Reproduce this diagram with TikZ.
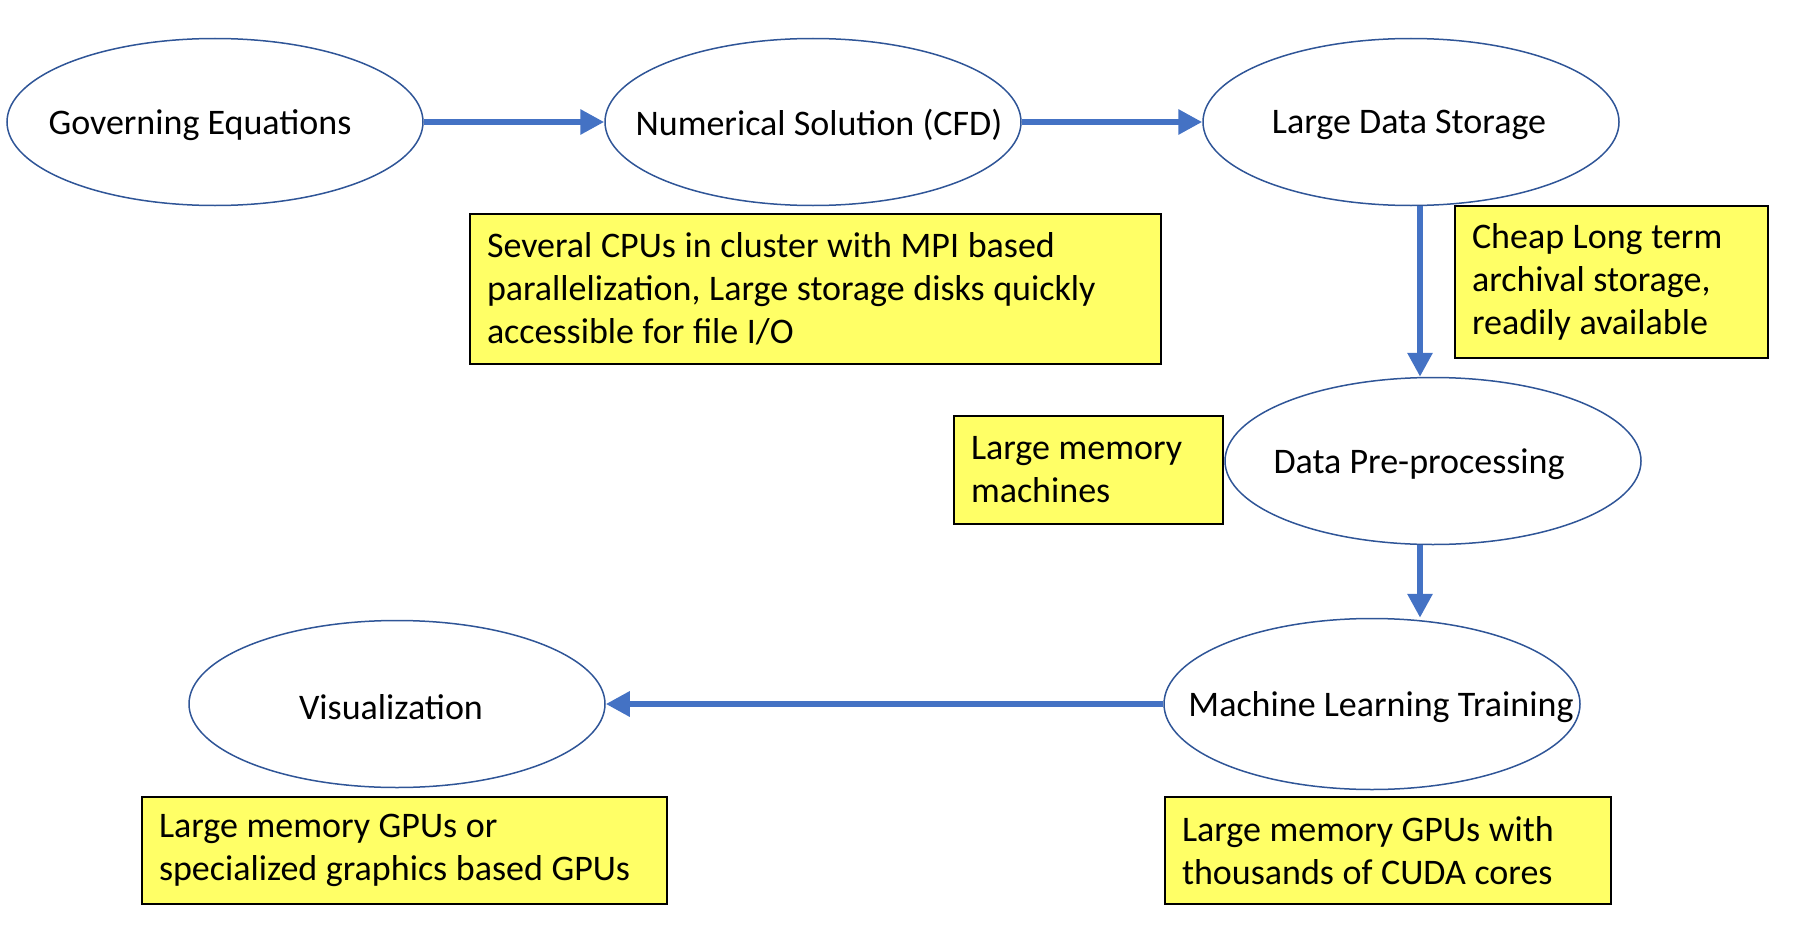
\documentclass[tikz,border=0pt]{standalone}
\usepackage{fontspec}
\setmainfont{Carlito}
\usetikzlibrary{shapes.geometric,arrows.meta}
\definecolor{arrowblue}{HTML}{4472C4}
\definecolor{ellblue}{HTML}{2F5597}
\definecolor{noteyellow}{HTML}{FFFF66}
\begin{document}
\begin{tikzpicture}[x=1pt,y=-1pt,font=\fontsize{36}{43}\selectfont,
  stage/.style={ellipse, draw=ellblue, line width=1.5pt, minimum width=416pt, minimum height=167pt, inner sep=0pt},
  stagetext/.style={yshift=-3pt},
  note/.style={draw=black, line width=2pt, fill=noteyellow, anchor=north west, align=left, inner xsep=17pt, inner ysep=0pt,
    execute at begin node={\spaceskip=8.6pt plus 1pt\relax}},
  flow/.style={draw=arrowblue, line width=6pt, -{Triangle[length=24pt,width=24pt]}}]
\useasboundingbox (0,0) rectangle (1794,934);
\node[stage, label={[stagetext,xshift=-15pt]center:Governing Equations}] (gov) at (215,122) {};
\node[stage, label={[stagetext,xshift=6pt]center:Numerical Solution (CFD)}] (num) at (813,122) {};
\node[stage, label={[stagetext,xshift=-2pt]center:Large Data Storage}] (lds) at (1411,122) {};
\node[stage, label={[stagetext,xshift=-14pt]center:Data Pre-processing}] (pre) at (1433,461) {};
\node[stage, minimum height=171pt, label={[stagetext,xshift=9pt]center:Machine Learning Training}] (ml) at (1372,704) {};
\node[stage, label={[stagetext,xshift=-6pt]center:Visualization}] (vis) at (397,704) {};

\node[note, text width=657pt, minimum height=150pt] (cpu) at (469,213) {Several CPUs in cluster with MPI based\\parallelization, Large storage disks quickly\\accessible for file I/O};
\node[note, text width=279pt, minimum height=152pt] (cheap) at (1454,205) {Cheap Long term\\archival storage,\\readily available};
\node[note, text width=235pt, minimum height=108pt] (lmm) at (953,415) {Large memory\\machines};
\node[note, text width=491pt, minimum height=107pt] (gpuor) at (141,796) {Large memory GPUs or\\specialized graphics based GPUs};
\node[note, text width=412pt, minimum height=107pt] (gpuwith) at (1164,796) {Large memory GPUs with\\thousands of CUDA cores};

\draw[flow] (gov.east) -- (num.west);
\draw[flow] (num.east) -- (lds.west);
\draw[flow] ([xshift=9pt]lds.south) -- ([xshift=9pt]lds.south |- pre.north);
\draw[flow] ([xshift=-13pt]pre.south) -- ([xshift=-13pt]pre.south |- ml.north);
\draw[flow] (ml.west) -- (vis.east);
\end{tikzpicture}
\end{document}
